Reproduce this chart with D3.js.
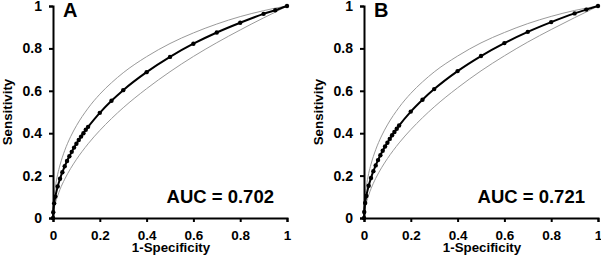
<!DOCTYPE html>
<html>
<head>
<meta charset="utf-8">
<script src="https://cdn.jsdelivr.net/npm/d3@7"></script>
<style>
  body { margin: 0; background: #fff; }
  svg { display: block; font-family: 'Liberation Sans', Arial, sans-serif; font-weight: bold; }
</style>
</head>
<body>
<svg id="chart" width="601" height="257"></svg>
<script>
// ROC points (1-specificity, sensitivity)
const rocX = [0, 0.001, 0.005, 0.01, 0.02, 0.03, 0.04, 0.05, 0.06, 0.07, 0.08, 0.09, 0.1,
  0.11, 0.12, 0.13, 0.14, 0.15, 0.2, 0.25, 0.3, 0.4, 0.5, 0.6, 0.7, 0.8, 0.9, 0.95, 1]
const rocA = [0, 0.027, 0.069, 0.101, 0.149, 0.185, 0.216, 0.244, 0.269, 0.291, 0.312, 0.332, 0.35,
  0.368, 0.384, 0.4, 0.416, 0.43, 0.496, 0.553, 0.603, 0.688, 0.76, 0.822, 0.875, 0.921, 0.963, 0.98, 1]
const rocB = [0, 0.028, 0.071, 0.104, 0.152, 0.189, 0.221, 0.248, 0.273, 0.296, 0.317, 0.337, 0.355,
  0.373, 0.39, 0.406, 0.421, 0.436, 0.502, 0.558, 0.608, 0.693, 0.764, 0.825, 0.878, 0.924, 0.965, 0.983, 1]

// confidence band curves
const bandX = [0, 0.001, 0.005, 0.01, 0.02, 0.03, 0.05, 0.075, 0.1, 0.15, 0.2, 0.25, 0.3,
  0.4, 0.5, 0.6, 0.7, 0.8, 0.9, 0.95, 1]
const upperA = [0, 0.044, 0.103, 0.146, 0.206, 0.25, 0.318, 0.383, 0.435, 0.518, 0.584, 0.638, 0.685,
  0.761, 0.823, 0.873, 0.915, 0.95, 0.978, 0.99, 1]
const lowerA = [0, 0.016, 0.045, 0.069, 0.105, 0.135, 0.183, 0.233, 0.276, 0.35, 0.413, 0.469, 0.52,
  0.61, 0.69, 0.762, 0.827, 0.887, 0.944, 0.971, 1]
const upperB = [0, 0.046, 0.106, 0.149, 0.21, 0.254, 0.322, 0.387, 0.439, 0.522, 0.588, 0.642, 0.689,
  0.764, 0.826, 0.875, 0.917, 0.951, 0.979, 0.99, 1]
const lowerB = [0, 0.017, 0.047, 0.071, 0.108, 0.138, 0.187, 0.237, 0.28, 0.354, 0.417, 0.473, 0.524,
  0.614, 0.694, 0.765, 0.83, 0.889, 0.945, 0.972, 1]

const tickValues = [0, 0.2, 0.4, 0.6, 0.8, 1]
const panels = [
  {letter: 'A', auc: 'AUC = 0.702', roc: rocA, upper: upperA, lower: lowerA, left: 53, right: 287, yTitle: 12},
  {letter: 'B', auc: 'AUC = 0.721', roc: rocB, upper: upperB, lower: lowerB, left: 364, right: 598, yTitle: 323},
]

const svg = d3.select('#chart')
const plotTop = 6
const plotBottom = 218

panels.forEach((p) => {
  const x = d3.scaleLinear().domain([0, 1]).range([p.left, p.right])
  const y = d3.scaleLinear().domain([0, 1]).range([plotBottom, plotTop])
  const g = svg.append('g')

  const line = d3.line()
    .x((d) => x(d[0]))
    .y((d) => y(d[1]))
    .curve(d3.curveMonotoneX)

  ;[p.upper, p.lower].forEach((band) => {
    g.append('path')
      .datum(bandX.map((v, i) => [v, band[i]]))
      .attr('fill', 'none')
      .attr('stroke', '#9a9a9a')
      .attr('stroke-width', 1)
      .attr('d', line)
  })

  const pts = rocX.map((v, i) => [v, p.roc[i]])
  g.append('path')
    .datum(pts)
    .attr('fill', 'none')
    .attr('stroke', '#000')
    .attr('stroke-width', 2)
    .attr('d', line)

  g.selectAll('.pt')
    .data(pts)
    .enter()
    .append('circle')
    .attr('class', 'pt')
    .attr('cx', (d) => x(d[0]))
    .attr('cy', (d) => y(d[1]))
    .attr('r', 2.2)
    .attr('fill', '#000')

  const xAxis = g.append('g')
    .attr('transform', `translate(0, ${plotBottom})`)
    .call(d3.axisBottom(x).tickValues(tickValues).tickFormat(d3.format('')).tickSize(4).tickPadding(8))
  xAxis.selectAll('text').attr('font-size', 13.5).attr('font-weight', 'bold').attr('font-family', null).attr('fill', '#000')

  const yAxis = g.append('g')
    .attr('transform', `translate(${p.left}, 0)`)
    .call(d3.axisLeft(y).tickValues(tickValues).tickFormat(d3.format('')).tickSize(4).tickPadding(7))
  yAxis.selectAll('text').attr('font-size', 14).attr('font-weight', 'bold').attr('font-family', null).attr('fill', '#000')

  ;[xAxis, yAxis].forEach((a) => {
    a.select('.domain').attr('stroke-width', 2).attr('stroke', '#000')
    a.selectAll('line').attr('stroke-width', 2).attr('stroke', '#000')
  })

  g.append('text')
    .attr('x', (p.left + p.right) / 2 + 1)
    .attr('y', 252)
    .attr('text-anchor', 'middle')
    .attr('font-size', 13.3)
    .text('1-Specificity')

  g.append('text')
    .attr('transform', `translate(${p.yTitle}, ${(plotTop + plotBottom) / 2}) rotate(-90)`)
    .attr('text-anchor', 'middle')
    .attr('font-size', 13.3)
    .text('Sensitivity')

  g.append('text')
    .attr('x', p.left + 10)
    .attr('y', 17)
    .attr('font-size', 20)
    .text(p.letter)

  g.append('text')
    .attr('x', p.right - 13)
    .attr('y', 203)
    .attr('text-anchor', 'end')
    .attr('font-size', 18.5)
    .text(p.auc)
})
</script>
</body>
</html>
